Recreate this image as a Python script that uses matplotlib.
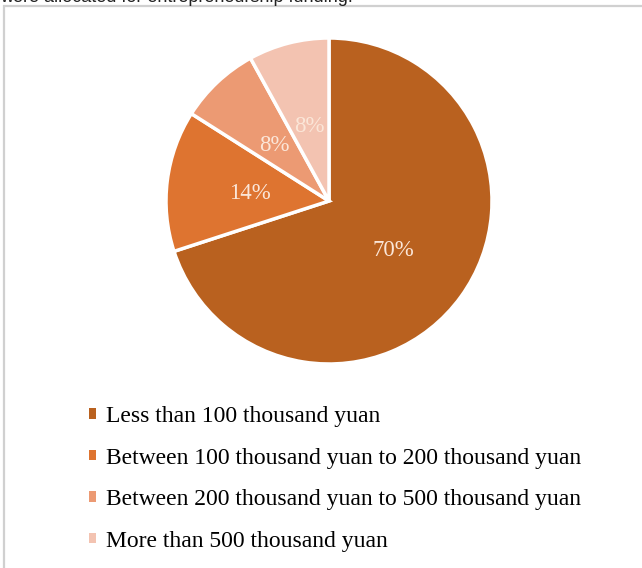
import matplotlib
matplotlib.use("Agg")
import matplotlib.pyplot as plt
from matplotlib.patches import Rectangle

categories = ["Less than 100 thousand yuan",
              "Between 100 thousand yuan to 200 thousand yuan",
              "Between 200 thousand yuan to 500 thousand yuan",
              "More than 500 thousand yuan"]
values = [70, 14, 8, 8]
colors = ["#B9611F", "#DE7430", "#EC9A73", "#F3C3B1"]

W, H = 642, 568
fig = plt.figure(figsize=(W / 100, H / 100), dpi=100)
fig.patch.set_facecolor("white")

# frame border
fig.add_artist(Rectangle((4 / W, -0.05), 1.1, (H - 6) / H + 0.05, transform=fig.transFigure,
                         fill=False, edgecolor="#D0D0D0", linewidth=1.6))

# clipped caption from the top
fig.text(0.0, 1.0 + 2 / H, "were allocated for entrepreneurship funding.", ha="left", va="center",
         fontsize=13, family="Liberation Sans", color="#222222")

cx, cy, r = 329, 201, 163
ax = fig.add_axes([(cx - r) / W, (H - cy - r) / H, 2 * r / W, 2 * r / H])
wedges, texts, autotexts = ax.pie(values, colors=colors, startangle=90, counterclock=False,
                                  radius=1, autopct="%d%%", pctdistance=0.49,
                                  wedgeprops=dict(edgecolor="white", linewidth=2.5),
                                  textprops=dict(color="#FBE6D8", fontsize=16.5,
                                                 family="Liberation Serif"))
for t in autotexts:
    t.set_verticalalignment("center_baseline")
ax.set_xlim(-1, 1)
ax.set_ylim(-1, 1)
ax.set_aspect("equal")
ax.axis("off")

leg = fig.legend(wedges, categories, loc="upper left", bbox_to_anchor=(89 / W, 1 - 406 / H),
                 frameon=False, prop=dict(family="Liberation Serif", size=17),
                 handlelength=0.3, handleheight=0.3, handletextpad=0.4,
                 labelspacing=0.87, borderaxespad=0, borderpad=0)
for h in leg.legend_handles:
    h.set_edgecolor("none")

fig.savefig("out.png", dpi=100, facecolor="white")
